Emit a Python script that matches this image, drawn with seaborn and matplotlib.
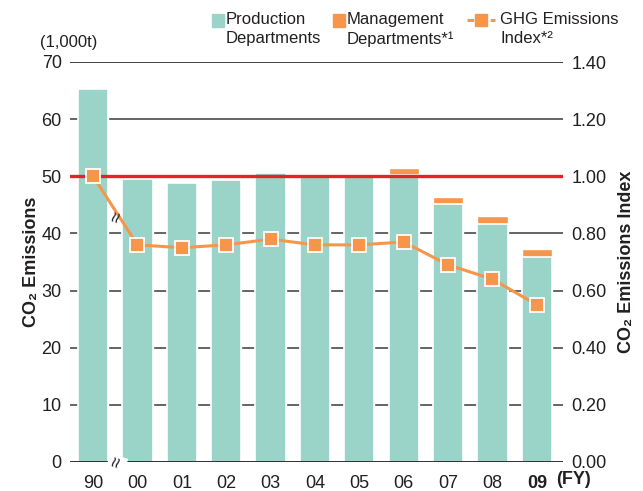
import numpy as np
import pandas as pd
import matplotlib
matplotlib.use("Agg")
import matplotlib.pyplot as plt
from matplotlib.patches import Rectangle
from matplotlib.lines import Line2D
import seaborn as sns

# Dados
years = ["90", "00", "01", "02", "03", "04", "05", "06", "07", "08", "09"]
production = [65.3, 49.6, 48.8, 49.4, 50.6, 49.8, 49.8, 50.2, 45.1, 41.7, 35.9]
management = [0, 0, 0, 0, 0, 0, 0, 1.3, 1.3, 1.4, 1.4]
ghg_index = [1.00, 0.76, 0.75, 0.76, 0.78, 0.76, 0.76, 0.77, 0.69, 0.64, 0.55]
left_ticks = [0, 10, 20, 30, 40, 50, 60, 70]
right_ticks = [0.0, 0.2, 0.4, 0.6, 0.8, 1.0, 1.2, 1.4]

TEAL = "#9ad4c9"
ORANGE = "#f7964a"
RED = "#e8202a"
TXT = "#231f20"

sns.set_style("white")
plt.rcParams["font.family"] = ["Liberation Sans", "DejaVu Sans"]

df = pd.DataFrame({"year": years, "production": production,
                   "management": management, "index": ghg_index})
df["total"] = df["production"] + df["management"]

fig = plt.figure(figsize=(6.43, 4.91), dpi=100)
ax = fig.add_axes([70 / 643, 29 / 491, 493 / 643, 400 / 491])

# linhas de grade atras das barras
for v in left_ticks[1:]:
    ax.axhline(v, color="#222222" if v == 70 else "#4a4a4a", lw=1.2, zorder=0)

sns.barplot(data=df, x="year", y="total", color=ORANGE, width=0.68,
            saturation=1, ax=ax, zorder=1)
sns.barplot(data=df, x="year", y="production", color=TEAL, width=0.68,
            saturation=1, edgecolor="white", linewidth=1.2, ax=ax, zorder=1)

ax.axhline(0, color=TXT, lw=1.3, zorder=3)
ax.axhline(50, color=RED, lw=2.4, zorder=4)

ax.set_ylim(0, 70)
ax.set_xlim(-0.52, 10.59)
ax.set_yticks(left_ticks)
ax.set_yticklabels([str(v) for v in left_ticks], fontsize=13, color=TXT)
ax.tick_params(axis="both", length=0, pad=6)
ax.tick_params(axis="x", pad=9)
ax.set_xticks(range(len(years)))
ax.set_xticklabels(years, fontsize=13, color=TXT)
ax.get_xticklabels()[-1].set_fontweight("bold")
ax.set_xlabel("")
ax.set_ylabel("CO₂ Emissions", fontsize=13, fontweight="bold", color=TXT, labelpad=1)
for s in ax.spines.values():
    s.set_visible(False)

ax2 = ax.twinx()
sns.pointplot(data=df, x="year", y="index", color=ORANGE, markers="s",
              linewidth=2.2, markersize=10, markeredgecolor="white",
              markeredgewidth=1.3, ax=ax2, zorder=5)
ax2.set_ylim(0, 1.4)
ax2.set_xlim(-0.52, 10.59)
ax2.set_yticks(right_ticks)
ax2.set_yticklabels([f"{v:.2f}" for v in right_ticks], fontsize=13, color=TXT)
ax2.tick_params(axis="y", length=0, pad=6)
ax2.set_ylabel("CO₂ Emissions Index", fontsize=13, fontweight="bold", color=TXT,
               rotation=90, labelpad=8)
ax2.set_xlabel("")
for s in ax2.spines.values():
    s.set_visible(False)

# marcas de quebra
ax2.text(0.55, 0.855, "\u2248", rotation=72, fontsize=14, ha="center", va="center",
         color=TXT, zorder=6)
ax.text(0.55, 0, "\u2248", rotation=72, fontsize=14, ha="center", va="center",
        color=TXT, zorder=6,
        bbox=dict(facecolor="white", edgecolor="none", pad=0.5))

fig.text(556 / 643, 1 - 479 / 491, "(FY)", fontsize=13, fontweight="bold",
         color=TXT, va="center", ha="left")
fig.text(40 / 643, 1 - 43 / 491, "(1,000t)", fontsize=12, color=TXT,
         va="center", ha="left")

# legenda manual
def fx(px):
    return px / 643

def fy(py):
    return 1 - py / 491

fig.patches.append(Rectangle((fx(212), fy(27)), 12 / 643, 13 / 491,
                             transform=fig.transFigure, color=TEAL))
fig.text(fx(226), fy(12), "Production\nDepartments", fontsize=12, color=TXT,
         va="top", ha="left", linespacing=1.35)
fig.patches.append(Rectangle((fx(333), fy(27)), 12 / 643, 13 / 491,
                             transform=fig.transFigure, color=ORANGE))
fig.text(fx(347), fy(12), "Management\nDepartments*¹", fontsize=12, color=TXT,
         va="top", ha="left", linespacing=1.35)
fig.lines.append(Line2D([fx(467), fx(495)], [fy(20), fy(20)], transform=fig.transFigure,
                        color=ORANGE, lw=2.2, linestyle=(0, (2.2, 1.6))))
fig.lines.append(Line2D([fx(481)], [fy(20)], transform=fig.transFigure, marker="s",
                        markersize=9, color=ORANGE, markeredgecolor=ORANGE))
fig.text(fx(500), fy(12), "GHG Emissions\nIndex*²", fontsize=12, color=TXT,
         va="top", ha="left", linespacing=1.35)

fig.savefig("out.png", dpi=100)
